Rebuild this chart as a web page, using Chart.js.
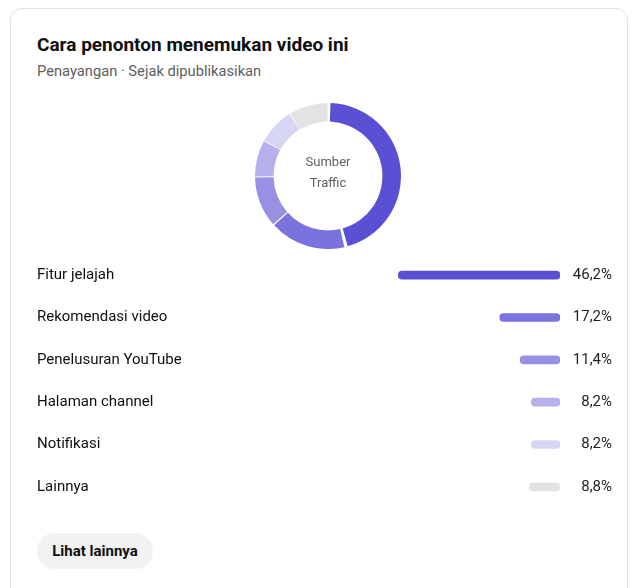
<!DOCTYPE html>
<html>
<head>
<meta charset="utf-8">
<script src="https://cdn.jsdelivr.net/npm/chart.js@4.4.0/dist/chart.umd.min.js"></script>
<style>
  body { margin: 0; background: #fff; font-family: Roboto, sans-serif; width: 632px; height: 588px; overflow: hidden; position: relative; }
  .card { position: absolute; left: 10px; top: 8px; width: 618px; height: 600px; border: 1px solid #e3e3e3; border-radius: 12px; box-sizing: border-box; }
  .title { position: absolute; left: 37px; top: 33px; font-size: 19px; font-weight: bold; color: #0f0f0f; line-height: 24px; white-space: nowrap; }
  .sub { position: absolute; left: 37px; top: 62px; font-size: 14.7px; color: #606060; line-height: 18px; white-space: nowrap; }
  .center { position: absolute; left: 278px; top: 151px; width: 100px; text-align: center; font-size: 13px; line-height: 21px; color: #606060; }
  .btn { position: absolute; left: 37px; top: 533px; width: 116px; height: 36px; border-radius: 18px; background: #f2f2f2; font-size: 15px; font-weight: bold; color: #0f0f0f; line-height: 36px; text-align: center; }
  #donutBox { position: absolute; left: 255px; top: 103px; width: 146px; height: 146px; }
  #barBox { position: absolute; left: 37px; top: 253.5px; width: 575px; height: 254px; }
</style>
</head>
<body>
<div class="card"></div>
<div class="title">Cara penonton menemukan video ini</div>
<div class="sub">Penayangan · Sejak dipublikasikan</div>
<div id="donutBox"><canvas id="donut"></canvas></div>
<div class="center">Sumber<br>Traffic</div>
<div id="barBox"><canvas id="bars"></canvas></div>
<div class="btn">Lihat lainnya</div>
<script>
const sources = ['Fitur jelajah', 'Rekomendasi video', 'Penelusuran YouTube', 'Halaman channel', 'Notifikasi', 'Lainnya'];
const shares = [46.2, 17.2, 11.4, 8.2, 8.2, 8.8];
const shareLabels = ['46,2%', '17,2%', '11,4%', '8,2%', '8,2%', '8,8%'];
const colors = ['#5a50d4', '#7a72dd', '#9891e3', '#b6b1ec', '#d7d5f4', '#e3e3e3'];

// donut at the top
new Chart(document.getElementById('donut'), {
    type: 'doughnut',
    data: {
        labels: sources,
        datasets: [{
            data: shares,
            backgroundColor: colors,
            borderWidth: 0,
            spacing: 3
        }]
    },
    options: {
        responsive: true,
        maintainAspectRatio: false,
        animation: false,
        cutout: '74%',
        events: [],
        plugins: { legend: { display: false }, tooltip: { enabled: false } }
    }
});

// fixed axis widths, no extra padding from the labels
function fitAxis(width) {
    return (scale) => {
        scale.width = width;
        scale.paddingTop = 0;
        scale.paddingBottom = 0;
    };
}

// bars grow from the right edge
new Chart(document.getElementById('bars'), {
    type: 'bar',
    data: {
        labels: sources,
        datasets: [{
            data: shares,
            backgroundColor: colors,
            barThickness: 8,
            borderRadius: 4,
            borderSkipped: false
        }]
    },
    options: {
        indexAxis: 'y',
        responsive: true,
        maintainAspectRatio: false,
        animation: false,
        events: [],
        layout: { padding: 0, autoPadding: false },
        plugins: { legend: { display: false }, tooltip: { enabled: false } },
        scales: {
            x: { display: false, reverse: true, min: 0, max: 106.6 },
            y: {
                position: 'left',
                grid: { display: false },
                border: { display: false },
                ticks: { crossAlign: 'far', color: '#0f0f0f', font: { family: 'Roboto', size: 15 } },
                afterFit: fitAxis(150)
            },
            pct: {
                type: 'category',
                position: 'right',
                labels: shareLabels,
                grid: { display: false },
                border: { display: false },
                ticks: { crossAlign: 'far', color: '#1f1f1f', font: { family: 'Roboto', size: 15 } },
                afterFit: fitAxis(52)
            }
        }
    }
});
</script>
</body>
</html>
